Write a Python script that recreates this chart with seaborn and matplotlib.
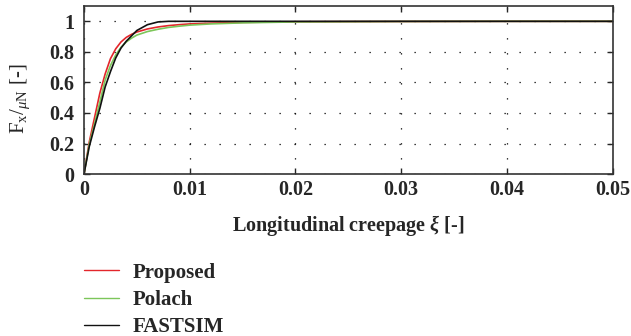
import pandas as pd
import numpy as np
import matplotlib
matplotlib.use("Agg")
import matplotlib.pyplot as plt
import seaborn as sns

# Creepage values
xi = [0, 0.0005, 0.001, 0.0015, 0.002, 0.0025, 0.003, 0.0035, 0.004, 0.0045,
      0.005, 0.006, 0.007, 0.008, 0.009, 0.01, 0.012, 0.015, 0.02, 0.03, 0.04, 0.05]

proposed = [0, 0.21, 0.37, 0.53, 0.655, 0.755, 0.82, 0.865, 0.895, 0.915,
            0.93, 0.95, 0.963, 0.972, 0.978, 0.983, 0.988, 0.993, 0.997, 0.999, 1.0, 1.0]
polach = [0, 0.195, 0.33, 0.47, 0.615, 0.71, 0.78, 0.83, 0.865, 0.89,
          0.91, 0.933, 0.948, 0.96, 0.968, 0.975, 0.983, 0.99, 0.996, 0.999, 1.0, 1.0]
fastsim = [0, 0.18, 0.31, 0.43, 0.57, 0.67, 0.76, 0.825, 0.87, 0.905,
           0.94, 0.978, 0.996, 1.0, 1.0, 1.0, 1.0, 1.0, 1.0, 1.0, 1.0, 1.0]

series_names = ["Proposed", "Polach", "FASTSIM"]
series_colors = ["#e3262b", "#7cc65a", "#111111"]

x_ticks = [0, 0.01, 0.02, 0.03, 0.04, 0.05]
x_tick_labels = ["0", "0.01", "0.02", "0.03", "0.04", "0.05"]
y_ticks = [0, 0.2, 0.4, 0.6, 0.8, 1.0]
y_tick_labels = ["0", "0.2", "0.4", "0.6", "0.8", "1"]

sns.set_style("ticks")
plt.rcParams["font.family"] = ["Liberation Serif", "DejaVu Serif"]
plt.rcParams["mathtext.fontset"] = "custom"
plt.rcParams["mathtext.rm"] = "Liberation Serif"
plt.rcParams["mathtext.it"] = "Liberation Serif:italic"
plt.rcParams["mathtext.bf"] = "Liberation Serif:bold"
plt.rcParams["mathtext.bfit"] = "Liberation Serif:bold:italic"

# long format for seaborn
df = pd.DataFrame({
    "xi": xi * 3,
    "F": proposed + polach + fastsim,
    "Model": [series_names[0]] * len(xi) + [series_names[1]] * len(xi) + [series_names[2]] * len(xi),
})

fig = plt.figure(figsize=(6.31, 3.36), dpi=100)
ax = fig.add_axes([0.1331, 0.482, 0.838, 0.5])

sns.lineplot(data=df, x="xi", y="F", hue="Model", hue_order=series_names,
             palette=series_colors, linewidth=1.2, ax=ax, legend=False)

ax.set_xlim(0, 0.05)
ax.set_ylim(0, 1.1)
ax.set_xticks(x_ticks)
ax.set_xticklabels(x_tick_labels, fontweight="bold", fontsize=14.5)
ax.set_yticks(y_ticks)
ax.set_yticklabels(y_tick_labels, fontweight="bold", fontsize=14.5)
ax.tick_params(direction="in", length=4, width=1, top=True, right=True)
ax.tick_params(axis="y", pad=7)
ax.tick_params(axis="x", pad=4)
ax.grid(True, color="black", linestyle=(0, (1, 11)), linewidth=0.9)

for s in ax.spines.values():
    s.set_linewidth(1.2)
    s.set_color("#333333")

ax.set_xlabel(r"Longitudinal creepage $\boldsymbol{\xi}$ [-]", fontweight="bold", fontsize=14.5, labelpad=10)
ax.set_ylabel(r"F$_{\mathrm{x}}$/$_{\mu\mathrm{N}}$ [-]", fontsize=15)
ax.yaxis.set_label_coords(-0.098, 0.45)

handles = [plt.Line2D([], [], color=c, linewidth=1.0) for c in series_colors]
fig.legend(handles, series_names, loc="upper left", bbox_to_anchor=(0.116, 0.249),
           frameon=False, prop={"family": "Liberation Serif", "weight": "bold", "size": 15},
           handlelength=1.7, handletextpad=0.67, labelspacing=0.34, borderpad=0)

plt.savefig("out.png", dpi=100)
